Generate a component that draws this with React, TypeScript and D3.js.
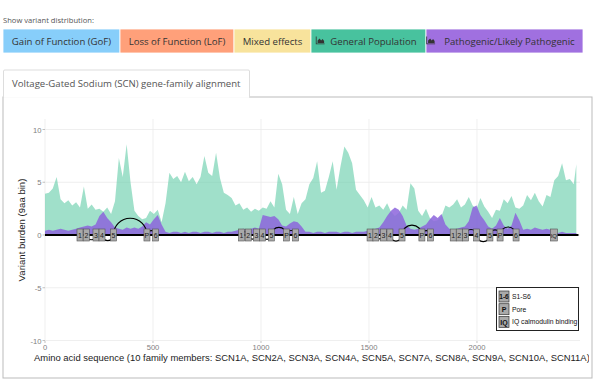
import React from "react";
import * as d3 from "d3";

const BIN = 18;
const generalPop = [
  3.9,4.0,4.4,5.5,3.4,3.0,3.3,2.8,3.1,2.6,
  4.6,2.5,2.9,2.4,2.5,2.2,2.6,2.0,3.2,7.3,
  5.5,8.6,5.0,2.3,1.8,1.5,1.6,2.3,2.0,2.4,
  1.2,3.0,5.9,5.3,5.6,5.0,6.0,5.1,5.5,4.8,
  5.5,7.5,5.9,5.6,7.8,5.4,4.0,3.8,3.5,2.8,
  3.0,2.4,2.6,2.2,2.5,2.3,2.6,2.5,3.2,2.6,
  5.8,4.8,2.4,2.0,3.6,2.0,3.0,3.4,4.8,5.4,
  7.0,4.0,4.2,5.5,7.0,4.3,6.5,8.4,7.8,6.8,
  4.3,3.8,3.3,2.6,3.6,2.6,2.8,2.4,3.0,2.2,
  1.8,2.1,2.8,2.4,4.9,4.4,2.3,1.8,2.5,1.6,
  1.3,1.4,1.8,2.8,2.6,2.9,3.4,2.6,2.9,3.6,
  2.8,2.5,3.5,2.7,2.2,1.6,2.4,2.3,3.4,3.0,
  3.7,2.6,2.5,2.8,3.8,3.3,4.0,3.2,2.7,3.8,
  3.6,5.2,5.6,6.8,5.2,5.3,4.8,6.7,
];
const pathogenic = [
  0.4,0.5,0.4,0.5,0.6,0.5,0.4,0.5,0.6,
  0.7,0.8,0.9,0.8,1.0,
  1.8,2.2,1.6,1.2,0.7,
  0.6,0.5,0.7,0.6,0.7,0.6,
  0.8,1.2,1.0,1.5,1.9,1.0,
  0.3,0.2,0.3,0.3,0.2,0.3,0.2,0.3,0.3,0.2,0.3,0.3,0.2,0.3,0.3,
  0.2,0.3,0.3,0.4,0.5,0.6,0.5,0.6,0.7,0.6,
  1.9,1.8,1.7,1.8,1.5,0.9,0.8,1.1,1.3,1.2,
  0.8,
  0.3,0.3,0.2,0.3,0.3,0.2,0.3,0.3,0.3,0.2,0.3,0.3,0.2,0.3,0.3,0.3,
  0.4,0.5,0.6,0.7,
  1.2,1.8,2.3,2.6,2.4,1.8,0.9,
  0.6,0.5,0.6,0.8,
  1.0,1.5,1.9,1.6,2.0,1.0,
  0.6,0.5,0.6,0.7,0.8,
  1.3,2.6,2.8,1.9,1.4,
  0.8,0.6,0.9,1.6,0.9,0.6,0.9,2.1,1.4,
  0.5,0.6,0.5,0.7,0.6,0.5,0.6,0.5,
  0.2,0.2,0.3,0.2,0.2,0.2,0.2,
];
const segLabels = ["1", "2", "3", "4", "5", "P", "6"];
// loop direction between consecutive segments: 1 = up (extracellular), -1 = down
const loopDir = [1, -1, 1, -1, 1, 1];
const domains = [
  [162, 192, 236, 264, 317, 472, 512],
  [910, 941, 979, 1007, 1048, 1118, 1160],
  [1505, 1532, 1567, 1597, 1653, 1745, 1785],
  [1890, 1918, 1947, 1998, 2060, 2107, 2181],
];
const iqPos = 2356;
const seqLength = 2470;
const xTicks = [0, 500, 1000, 1500, 2000];
const yTicks = [10, 5, 0, -5, -10];
const buttons = [
  { label: "Gain of Function (GoF)", color: "#87cefa", icon: false },
  { label: "Loss of Function (LoF)", color: "#ffa07a", icon: false },
  { label: "Mixed effects", color: "#f8e39c", icon: false },
  { label: "General Population", color: "#48c29e", icon: true },
  { label: "Pathogenic/Likely Pathogenic", color: "#a070e0", icon: true },
];
const buttonEdges = [3, 120, 234, 311, 426, 583];
const legendItems = [
  { key: "1-6", label: "S1-S6" },
  { key: "P", label: "Pore" },
  { key: "IQ", label: "IQ calmodulin binding" },
];

export default function App() {
  const x = d3.scaleLinear().domain([0, 2477]).range([45, 580]);
  const y = d3.scaleLinear().domain([-10, 10]).range([340.5, 129.5]);
  const panelTop = 119;
  const panelBottom = 341;

  const tealData = generalPop.map((v, i) => ({ a: Math.min(i * BIN, 2460), v }));
  const purpData = pathogenic.map((v, i) => ({ a: Math.min(i * BIN, 2460), v }));
  const area = d3
    .area<{ a: number; v: number }>()
    .x((d) => x(d.a))
    .y0(y(0))
    .y1((d) => y(d.v));

  const font = "'Liberation Sans', Arial, sans-serif";
  const ui = "'Open Sans', sans-serif";
  const y0 = y(0);

  const loops: React.ReactNode[] = [];
  const boxes: React.ReactNode[] = [];
  domains.forEach((dom, di) => {
    dom.forEach((p, si) => {
      if (si < dom.length - 1) {
        const xa = x(p);
        const xb = x(dom[si + 1]);
        const r = (xb - xa) / 2;
        const sweep = loopDir[si] > 0 ? 1 : 0;
        loops.push(
          <path
            key={`l${di}-${si}`}
            d={`M${xa},${y0} A${r},${r} 0 0 ${sweep} ${xb},${y0}`}
            fill="none"
            stroke="#000"
            strokeWidth={1.2}
          />
        );
      }
      boxes.push(
        <g key={`b${di}-${si}`}>
          <rect x={x(p) - 3} y={y0 - 6} width={6} height={12} fill="#a9a9a9" stroke="#555" strokeWidth={0.6} />
          <text x={x(p)} y={y0 + 2.5} fontSize={7} textAnchor="middle" fill="#222" fontFamily={font}>
            {segLabels[si]}
          </text>
        </g>
      );
    });
  });

  const icon = (cx: number, cy: number) => (
    <g transform={`translate(${cx},${cy})`} fill="#333">
      <path d="M0,-4 L0,3 L8,3 L8,3.8 L-0.8,3.8 L-0.8,-4 Z" />
      <path d="M1,2.5 L1,0 L3,-2 L4.5,0 L6,-1.5 L7.5,0.5 L7.5,2.5 Z" />
    </g>
  );

  return (
    <svg width={600} height={384} style={{ position: "absolute", left: 0, top: 0, background: "#fff" }}>
      <defs>
        <clipPath id="plotclip">
          <rect x={4} y={98} width={585} height={280} />
        </clipPath>
      </defs>
      <text x={3} y={23} fontSize={7.6} fill="#555" fontFamily={ui}>
        Show variant distribution:
      </text>
      {buttons.map((b, i) => {
        const x1 = buttonEdges[i];
        const x2 = buttonEdges[i + 1];
        const cx = (x1 + x2) / 2;
        return (
          <g key={b.label}>
            <rect x={x1} y={29} width={x2 - x1} height={24} fill={b.color} stroke="#fff" strokeWidth={0.8} />
            {b.icon && icon(cx - b.label.length * 2.55 - 6, 40.5)}
            <text
              x={b.icon ? cx + 5 : cx}
              y={44.5}
              fontSize={9.6}
              textAnchor="middle"
              fill="#333"
              fontFamily={ui}
            >
              {b.label}
            </text>
          </g>
        );
      })}
      <rect x={3} y={97} width={589} height={281} fill="#fff" stroke="#bbb" strokeWidth={1} />
      <path d="M3.5,97.5 L3.5,71 Q3.5,70 5,70 L248,70 Q249.5,70 249.5,71 L249.5,97.5" fill="#fff" stroke="#ddd" />
      <line x1={4} x2={249} y1={97} y2={97} stroke="#fff" strokeWidth={1.5} />
      <text x={12} y={87} fontSize={9.6} fill="#555" fontFamily={ui}>
        Voltage-Gated Sodium (SCN) gene-family alignment
      </text>

      <g clipPath="url(#plotclip)">
        {yTicks.map((t) => (
          <line key={`gy${t}`} x1={45} x2={580} y1={y(t)} y2={y(t)} stroke="#ebebeb" strokeWidth={0.8} />
        ))}
        {xTicks.map((t) => (
          <line key={`gx${t}`} x1={x(t)} x2={x(t)} y1={panelTop} y2={panelBottom} stroke="#ebebeb" strokeWidth={0.8} />
        ))}
        <path d={area(tealData) || ""} fill="#66cdaa" fillOpacity={0.62} />
        <path d={area(purpData) || ""} fill="#8c64dc" fillOpacity={0.85} />
        <line x1={x(0)} x2={x(seqLength)} y1={y0} y2={y0} stroke="#000" strokeWidth={2} />
        {loops}
        {boxes}
        <g>
          <rect x={x(iqPos) - 3.5} y={y0 - 6} width={7} height={12} fill="#a9a9a9" stroke="#555" strokeWidth={0.6} />
          <text x={x(iqPos)} y={y0 + 2.5} fontSize={6} textAnchor="middle" fill="#222" fontFamily={font}>
            IQ
          </text>
        </g>

        {yTicks.map((t) => (
          <g key={`ty${t}`}>
            <line x1={42.5} x2={45} y1={y(t)} y2={y(t)} stroke="#999" strokeWidth={0.6} />
            <text x={41.5} y={y(t) + 3} fontSize={7.6} textAnchor="end" fill="#808080" fontFamily={font}>
              {t}
            </text>
          </g>
        ))}
        {xTicks.map((t) => (
          <g key={`tx${t}`}>
            <line x1={x(t)} x2={x(t)} y1={341} y2={343} stroke="#999" strokeWidth={0.6} />
            <text x={x(t)} y={350} fontSize={7.6} textAnchor="middle" fill="#808080" fontFamily={font}>
              {t}
            </text>
          </g>
        ))}
        <text x={34} y={361} fontSize={9.45} fill="#222" fontFamily={font}>
          Amino acid sequence (10 family members: SCN1A, SCN2A, SCN3A, SCN4A, SCN5A, SCN7A, SCN8A, SCN9A, SCN10A, SCN11A)
        </text>
        <text
          transform={`translate(25,${(panelTop + panelBottom) / 2}) rotate(-90)`}
          fontSize={9.6}
          textAnchor="middle"
          fill="#222"
          fontFamily={font}
        >
          Variant burden (9aa bin)
        </text>

        <svg x={496} y={287} width={83} height={44} overflow="hidden">
          <rect x={0.5} y={0.5} width={82} height={43} fill="#fff" stroke="#222" strokeWidth={1} />
          {legendItems.map((it, i) => (
            <g key={it.key}>
              <rect x={3} y={4 + i * 12.7} width={10} height={11} fill="#a9a9a9" stroke="#333" strokeWidth={0.7} />
              <text x={8} y={12.3 + i * 12.7} fontSize={it.key === "1-6" ? 6.5 : 7} textAnchor="middle" fill="#111" fontFamily={font} fontWeight="bold">
                {it.key}
              </text>
              <text x={16} y={12 + i * 12.7} fontSize={6.8} fill="#111" fontFamily={font}>
                {it.label}
              </text>
            </g>
          ))}
        </svg>
      </g>
    </svg>
  );
}
